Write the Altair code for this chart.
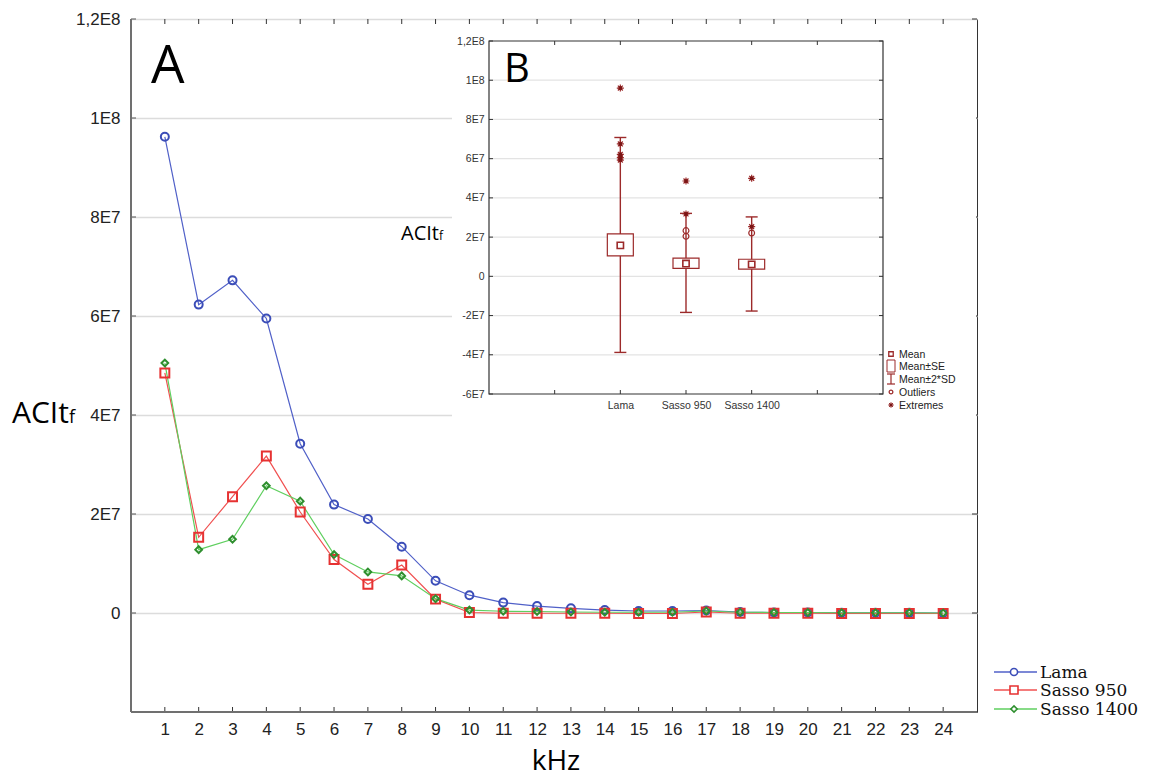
import altair as alt
import pandas as pd

# ---------------- data: panel A ----------------
khz = list(range(1, 25))
lama = [9.62e7, 6.23e7, 6.72e7, 5.95e7, 3.42e7, 2.19e7, 1.90e7, 1.34e7, 6.5e6, 3.6e6, 2.1e6, 1.4e6,
        9.5e5, 6.0e5, 4.0e5, 4.0e5, 5.0e5, 2.0e5, 1.0e5, 1.0e5, 5e4, 5e4, 3e4, 0]
sasso950 = [4.85e7, 1.53e7, 2.35e7, 3.17e7, 2.04e7, 1.08e7, 5.8e6, 9.7e6, 2.8e6, 1.0e5, -5e4, -5e4,
            -5e4, -5e4, -1e5, -1e5, 2.0e5, -5e4, -5e4, -5e4, -1e5, -1e5, -1e5, -1e5]
sasso1400 = [5.05e7, 1.28e7, 1.49e7, 2.57e7, 2.26e7, 1.18e7, 8.3e6, 7.5e6, 2.9e6, 6.0e5, 3.5e5, 3.0e5,
             2.0e5, 1.5e5, 1.5e5, 1.5e5, 4.0e5, 1.5e5, 1.0e5, 1.0e5, 5e4, 5e4, 5e4, 0]
series_names = ["Lama", "Sasso 950", "Sasso 1400"]
series_values = [lama, sasso950, sasso1400]
series_colors = ["#3b4db8", "#e63232", "#2f8f2f"]
line_colors = ["#5060c8", "#f05050", "#5fcf5f"]
series_shapes = ["circle", "square", "diamond"]
series_sizes = [64, 80, 45]

main_y_ticks = [0, 20000000, 40000000, 60000000, 80000000, 100000000, 120000000]
main_y_labels = ["0", "2E7", "4E7", "6E7", "8E7", "1E8", "1,2E8"]

# ---------------- data: panel B ----------------
box_groups = ["Lama", "Sasso 950", "Sasso 1400"]
box_pos = [2, 3, 4]
box_mean = [1.58e7, 6.5e6, 6.1e6]
box_se_low = [1.04e7, 4.1e6, 3.7e6]
box_se_high = [2.16e7, 9.3e6, 8.7e6]
box_sd_low = [-3.88e7, -1.84e7, -1.77e7]
box_sd_high = [7.08e7, 3.21e7, 3.03e7]
outlier_group = ["Sasso 950", "Sasso 950", "Sasso 1400"]
outlier_val = [2.33e7, 2.04e7, 2.21e7]
extreme_group = ["Lama"] * 5 + ["Sasso 950"] * 2 + ["Sasso 1400"] * 2
extreme_val = [9.6e7, 6.75e7, 6.22e7, 6.05e7, 5.93e7, 4.86e7, 3.18e7, 5.0e7, 2.53e7]
inset_y_ticks = [-60000000, -40000000, -20000000, 0, 20000000, 40000000, 60000000,
                 80000000, 100000000, 120000000]
inset_y_labels = ["-6E7", "-4E7", "-2E7", "0", "2E7", "4E7", "6E7", "8E7", "1E8", "1,2E8"]
inset_x_ticks = [1, 2, 3, 4, 5]

# ---------------- layout constants ----------------
W, H = 846, 693
IX0, IX1, IY0, IY1 = 358, 752, 375, 22   # inset plot rectangle inside main plot
DARK = "#9c2a2a"
LABEL_FONT = "Liberation Sans"
TITLE_FONT = "Open Sans"


def label_expr(vals, labs):
    expr = "''"
    for v, l in zip(vals, labs):
        expr = f"datum.value == {v} ? '{l}' : {expr}"
    return expr


MXS = alt.Scale(domain=[0, 25], nice=False, zero=False)
MYS = alt.Scale(domain=[-20000000, 120000000], nice=False, zero=False)
IXS = alt.Scale(domain=[0, 6], range=[IX0, IX1], nice=False, zero=False)
IYS = alt.Scale(domain=[-60000000, 120000000], range=[IY0, IY1], nice=False, zero=False)

main_x_axis = alt.Axis(values=khz, title=None, grid=False, ticks=False, domain=False, format="d",
                       labelFont=LABEL_FONT, labelFontSize=17, labelColor="#222", labelPadding=9,
                       labelFlush=False, labelOverlap=False)
main_y_axis = alt.Axis(values=main_y_ticks, labelExpr=label_expr(main_y_ticks, main_y_labels),
                       title=None, grid=True, gridColor="#dcdcdc", gridWidth=1.3, ticks=False,
                       domain=False, labelFont=LABEL_FONT, labelFontSize=17, labelColor="#222",
                       labelPadding=11, labelFlush=False, labelOverlap=False)
inset_x_axis = alt.Axis(orient="bottom", offset=IY0 - H, values=box_pos,
                        labelExpr=label_expr(box_pos, box_groups), title=None, grid=False,
                        ticks=False, domain=False, labelFont=LABEL_FONT, labelFontSize=10.5,
                        labelColor="#333", labelPadding=6, labelFlush=False, labelOverlap=False,
                        zindex=2)
inset_y_axis = alt.Axis(orient="left", offset=-IX0, values=inset_y_ticks,
                        labelExpr=label_expr(inset_y_ticks, inset_y_labels), title=None, grid=False,
                        ticks=False, domain=False, labelFont=LABEL_FONT, labelFontSize=10.5,
                        labelColor="#333", labelPadding=5, labelFlush=False, labelOverlap=False,
                        zindex=2)


def mx(f):
    return alt.X(f, type="quantitative", scale=MXS, axis=main_x_axis)


def my(f):
    return alt.Y(f, type="quantitative", scale=MYS, axis=main_y_axis)


def ix(f):
    return alt.X(f, type="quantitative", scale=IXS, axis=inset_x_axis)


def iy(f):
    return alt.Y(f, type="quantitative", scale=IYS, axis=inset_y_axis)


one = pd.DataFrame({"a": [0]})

# ---------------- panel A layers ----------------
main_layers = []
dfs = []
for name, vals in zip(series_names, series_values):
    dfs.append(pd.DataFrame({"kHz": khz, "value": vals, "series": name}))

for df, lc in zip(dfs, line_colors):
    main_layers.append(alt.Chart(df).mark_line(color=lc, strokeWidth=1.2).encode(
        x=mx("kHz"), y=my("value")))
for df, c, s, sz in zip(dfs, series_colors, series_shapes, series_sizes):
    main_layers.append(alt.Chart(df).mark_point(shape=s, size=sz, filled=False, color=c,
                                                strokeWidth=2, opacity=1).encode(
        x=mx("kHz"), y=my("value")))

ktick = pd.DataFrame({"kHz": khz})
ytick = pd.DataFrame({"v": main_y_ticks})
main_layers += [
    alt.Chart(ktick).mark_rule(color="#333").encode(x=mx("kHz"), y=alt.value(H), y2=alt.value(H - 5)),
    alt.Chart(ktick).mark_rule(color="#333").encode(x=mx("kHz"), y=alt.value(0), y2=alt.value(5)),
    alt.Chart(ytick).mark_rule(color="#333").encode(y=my("v"), x=alt.value(W), x2=alt.value(W - 5)),
    alt.Chart(ytick).mark_rule(color="#555").encode(y=my("v"), x=alt.value(0), x2=alt.value(5)),
    alt.Chart(one).mark_rule(color="#707070", strokeWidth=2).encode(
        x=alt.value(0), y=alt.value(0), y2=alt.value(H)),
    alt.Chart(one).mark_rule(color="#707070", strokeWidth=2).encode(
        x=alt.value(0), x2=alt.value(W), y=alt.value(H)),
]


def text(t, x, y, size, font=TITLE_FONT, align="left", baseline="alphabetic", color="#111"):
    return alt.Chart(one).mark_text(text=t, font=font, fontSize=size, align=align,
                                    baseline=baseline, color=color).encode(
        x=alt.value(x), y=alt.value(y))


main_layers += [
    text("A", 20, 64, 53, color="#000"),
    text("ACIt", -119, 404, 30, color="#000"),
    text("f", -62, 404, 18, color="#000"),
    text("kHz", 425, 751, 28, align="center", color="#000"),
]

# main legend
leg_rows = [653, 671, 690]
for name, c, lc, s, sz, ry in zip(series_names, series_colors, line_colors, series_shapes,
                                  [50, 64, 40], leg_rows):
    main_layers += [
        alt.Chart(one).mark_rule(color=lc, strokeWidth=1.3).encode(
            x=alt.value(863), x2=alt.value(906), y=alt.value(ry)),
        alt.Chart(one).mark_point(shape=s, size=sz, filled=False, color=c, strokeWidth=1.6,
                                  opacity=1, fill="white").encode(x=alt.value(883), y=alt.value(ry)),
        text(name, 909, ry + 1, 17, font="DejaVu Serif", baseline="middle", color="#111"),
    ]

main = alt.layer(*main_layers)

# ---------------- panel B layers ----------------
pos_of = dict(zip(box_groups, box_pos))
box_df = pd.DataFrame({"group": box_groups, "pos": box_pos, "mean": box_mean,
                       "se_low": box_se_low, "se_high": box_se_high,
                       "sd_low": box_sd_low, "sd_high": box_sd_high})
out_df = pd.DataFrame({"pos": [pos_of[g] for g in outlier_group], "v": outlier_val})
ext_df = pd.DataFrame({"pos": [pos_of[g] for g in extreme_group], "v": extreme_val})
igrid = pd.DataFrame({"v": inset_y_ticks[1:-1]})
iyt = pd.DataFrame({"v": inset_y_ticks})
ixt = pd.DataFrame({"k": inset_x_ticks})

ASTER = "M-1,0L1,0M0,-1L0,1M-0.7,-0.7L0.7,0.7M-0.7,0.7L0.7,-0.7"

inset_layers = [
    # white background of the inset
    alt.Chart(one).mark_rect(fill="white", stroke=None).encode(
        x=alt.value(321), x2=alt.value(W - 1), y=alt.value(5), y2=alt.value(401)),
    alt.Chart(igrid).mark_rule(color="#e3e3e3", strokeWidth=1.2).encode(
        y=iy("v"), x=alt.value(IX0), x2=alt.value(IX1)),
    alt.Chart(one).mark_rect(fill=None, stroke="#333", strokeWidth=1.2).encode(
        x=alt.value(IX0), x2=alt.value(IX1), y=alt.value(IY1), y2=alt.value(IY0)),
    alt.Chart(ixt).mark_rule(color="#333").encode(x=ix("k"), y=alt.value(IY0), y2=alt.value(IY0 - 4)),
    alt.Chart(ixt).mark_rule(color="#333").encode(x=ix("k"), y=alt.value(IY1), y2=alt.value(IY1 + 4)),
    alt.Chart(iyt).mark_rule(color="#333").encode(y=iy("v"), x=alt.value(IX0), x2=alt.value(IX0 + 4)),
    alt.Chart(iyt).mark_rule(color="#333").encode(y=iy("v"), x=alt.value(IX1), x2=alt.value(IX1 - 4)),
    # whiskers
    alt.Chart(box_df).mark_rule(color=DARK, strokeWidth=1.4).encode(
        x=ix("pos"), y=iy("sd_low"), y2=alt.Y2("sd_high")),
    alt.Chart(box_df).mark_rule(color=DARK, strokeWidth=1.4, xOffset=-6, x2Offset=6).encode(
        x=ix("pos"), x2=alt.X2("pos"), y=iy("sd_low")),
    alt.Chart(box_df).mark_rule(color=DARK, strokeWidth=1.4, xOffset=-6, x2Offset=6).encode(
        x=ix("pos"), x2=alt.X2("pos"), y=iy("sd_high")),
    # SE boxes
    alt.Chart(box_df).mark_rect(fill="white", stroke=DARK, strokeWidth=1.2, opacity=1,
                                xOffset=-13, x2Offset=13).encode(
        x=ix("pos"), x2=alt.X2("pos"), y=iy("se_low"), y2=alt.Y2("se_high")),
    # means
    alt.Chart(box_df).mark_point(shape="square", size=40, filled=False, color=DARK,
                                 strokeWidth=1.6, opacity=1).encode(x=ix("pos"), y=iy("mean")),
    # outliers
    alt.Chart(out_df).mark_point(shape="circle", size=34, filled=False, color=DARK,
                                 strokeWidth=1.2, opacity=1).encode(x=ix("pos"), y=iy("v")),
    # extremes
    alt.Chart(ext_df).mark_point(shape=ASTER, size=50, filled=False, color=DARK,
                                 strokeWidth=1.2, opacity=1).encode(x=ix("pos"), y=iy("v")),
    alt.Chart(ext_df).mark_point(shape="square", size=12, filled=True, color="#7a1515",
                                 opacity=1).encode(x=ix("pos"), y=iy("v")),
    # texts
    text("B", 373, 63, 40, color="#000"),
    text("ACIt", 270, 221, 20, color="#000"),
    text("f", 308, 221, 12, color="#000"),
]

# inset legend
LX, TX = 760, 768
leg_y = [335, 347, 360, 373, 386]
leg_t = ["Mean", "Mean±SE", "Mean±2*SD", "Outliers", "Extremes"]
inset_layers += [
    alt.Chart(one).mark_point(shape="square", size=20, filled=False, color=DARK, strokeWidth=1.3,
                              opacity=1).encode(x=alt.value(LX), y=alt.value(leg_y[0])),
    alt.Chart(one).mark_rect(fill="white", stroke=DARK, strokeWidth=1).encode(
        x=alt.value(LX - 4), x2=alt.value(LX + 4), y=alt.value(leg_y[1] - 6), y2=alt.value(leg_y[1] + 6)),
    alt.Chart(one).mark_rule(color=DARK, strokeWidth=1.2).encode(
        x=alt.value(LX), y=alt.value(leg_y[2] - 5), y2=alt.value(leg_y[2] + 5)),
    alt.Chart(one).mark_rule(color=DARK, strokeWidth=1.2).encode(
        x=alt.value(LX - 4), x2=alt.value(LX + 4), y=alt.value(leg_y[2] - 5)),
    alt.Chart(one).mark_rule(color=DARK, strokeWidth=1.2).encode(
        x=alt.value(LX - 4), x2=alt.value(LX + 4), y=alt.value(leg_y[2] + 5)),
    alt.Chart(one).mark_point(shape="circle", size=14, filled=False, color=DARK, strokeWidth=1.2,
                              opacity=1).encode(x=alt.value(LX), y=alt.value(leg_y[3])),
    alt.Chart(one).mark_point(shape=ASTER, size=30, filled=False, color=DARK, strokeWidth=1,
                              opacity=1).encode(x=alt.value(LX), y=alt.value(leg_y[4])),
    alt.Chart(one).mark_point(shape="square", size=8, filled=True, color="#7a1515",
                              opacity=1).encode(x=alt.value(LX), y=alt.value(leg_y[4])),
]
for t, yy in zip(leg_t, leg_y):
    inset_layers.append(text(t, TX, yy + 1, 10.5, font=LABEL_FONT, baseline="middle", color="#222"))

inset = alt.layer(*inset_layers)

chart = alt.layer(main, inset).resolve_scale(x="independent", y="independent").properties(
    width=W, height=H, autosize=alt.AutoSizeParams(type="none"),
    padding={"left": 123, "top": 11, "right": 164, "bottom": 60},
    background="white",
).configure_view(stroke="#333", strokeWidth=1)

chart.save("out.html", embed_options={"renderer": "svg", "actions": False})
